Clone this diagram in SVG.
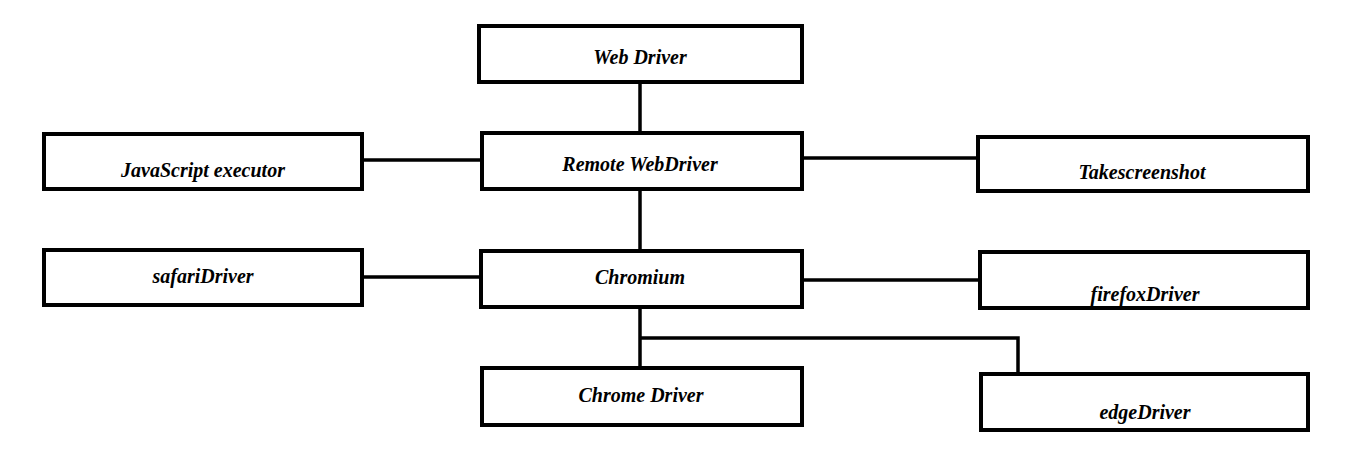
<svg xmlns="http://www.w3.org/2000/svg" width="1366" height="475" viewBox="0 0 1366 475">
<style>
rect{fill:#fff;stroke:#000;stroke-width:4}
text{font-family:"Liberation Serif",serif;font-weight:bold;font-style:italic;font-size:20px;text-anchor:middle}
#c path{fill:none;stroke:#000;stroke-width:3.5}
</style>
<rect width="1366" height="475" style="stroke:none"/>
<g id="c">
<path d="M640 81V133M362 160H482M802 158H977M640 189V250M362 277H482M802 280H980M640 307V367M640 338H1018V378"/>
</g>
<g id="webdriver"><rect x="479" y="26" width="323" height="56"/><text x="640" y="64">Web Driver</text></g>
<g id="remote"><rect x="482" y="133" width="320" height="56"/><text x="640" y="171">Remote WebDriver</text></g>
<g id="js"><rect x="44" y="134" width="318" height="55"/><text x="203" y="177">JavaScript executor</text></g>
<g id="ts"><rect x="978" y="137" width="330" height="54"/><text x="1142" y="179">Takescreenshot</text></g>
<g id="safari"><rect x="44" y="250" width="318" height="55"/><text x="203" y="283">safariDriver</text></g>
<g id="chromium"><rect x="481" y="251" width="321" height="56"/><text x="640" y="284">Chromium</text></g>
<g id="firefox"><rect x="980" y="252" width="328" height="56"/><text x="1145" y="301">firefoxDriver</text></g>
<g id="chrome"><rect x="482" y="368" width="320" height="57"/><text x="641" y="402">Chrome Driver</text></g>
<g id="edge"><rect x="981" y="374" width="327" height="56"/><text x="1145" y="419">edgeDriver</text></g>
</svg>
